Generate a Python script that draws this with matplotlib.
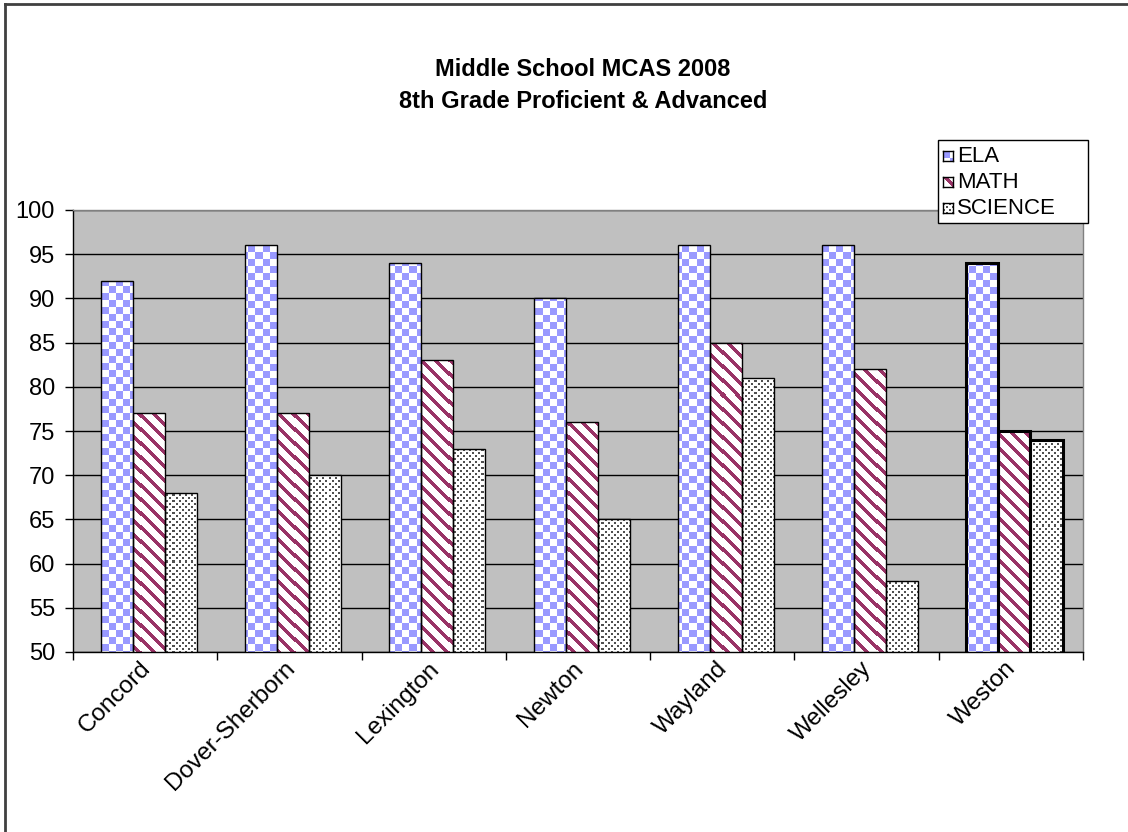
import matplotlib
matplotlib.use("Agg")
import matplotlib.pyplot as plt
import numpy as np
from matplotlib.patches import Rectangle
from matplotlib.lines import Line2D
from matplotlib.transforms import ScaledTranslation

plt.rcParams["font.family"] = ["Liberation Sans", "DejaVu Sans"]

schools = ["Concord", "Dover-Sherborn", "Lexington", "Newton", "Wayland", "Wellesley", "Weston"]
series = ["ELA", "MATH", "SCIENCE"]
ela = [92, 96, 94, 90, 96, 96, 94]
math_ = [77, 77, 83, 76, 85, 82, 75]
science = [68, 70, 73, 65, 81, 58, 74]
yticks = list(range(50, 101, 5))
title1 = "Middle School MCAS 2008"
title2 = "8th Grade Proficient & Advanced"

FIG_W, FIG_H = 1128, 832
BLUE = np.array([0x99, 0x99, 0xFF]) / 255
MAROON = np.array([0x99, 0x33, 0x66]) / 255
DOT = np.array([0x50, 0x50, 0x50]) / 255


def checker(h, w):
    yy, xx = np.mgrid[0:h, 0:w]
    img = np.ones((h, w, 3))
    img[((xx // 7 + yy // 7) % 2) == 0] = BLUE
    return img


def stripes(h, w):
    yy, xx = np.mgrid[0:h, 0:w]
    img = np.ones((h, w, 3))
    img[((xx - yy) % 14) < 5] = MAROON
    return img


def dots(h, w):
    yy, xx = np.mgrid[0:h, 0:w]
    img = np.ones((h, w, 3))
    m = ((xx % 6 < 2) & (yy % 6 < 2)) | (((xx + 3) % 6 < 2) & ((yy + 3) % 6 < 2))
    img[m] = DOT
    return img


textures = [checker, stripes, dots]

fig = plt.figure(figsize=(FIG_W / 100, FIG_H / 100), dpi=100)
left, right, top, bottom = 73, 1083, 210, 652
ax = fig.add_axes([left / FIG_W, 1 - bottom / FIG_H, (right - left) / FIG_W, (bottom - top) / FIG_H])
ax.set_facecolor("#C0C0C0")

x = np.arange(len(schools))
w = 0.222
shift = 0.025  # bars sit a touch right of the category centre
xlim = (-0.5, len(schools) - 0.5)
ylim = (50, 100)
hpx, wpx = bottom - top, right - left

for i, vals in enumerate([ela, math_, science]):
    tex = textures[i](hpx, wpx)
    lws = [2.2 if s == "Weston" else 1.0 for s in schools]
    bars = ax.bar(x + (i - 1) * w + shift, vals, width=w, facecolor="none",
                  edgecolor="black", linewidth=lws, zorder=3)
    for b in bars:
        im = ax.imshow(tex, extent=(xlim[0], xlim[1], ylim[0], ylim[1]),
                       origin="upper", interpolation="nearest", aspect="auto", zorder=2)
        im.set_clip_path(b)

ax.set_xlim(*xlim)
ax.set_ylim(*ylim)
ax.set_axisbelow(True)
ax.yaxis.grid(True, color="black", linewidth=1.0)

ax.set_yticks(yticks)
ax.tick_params(axis="y", length=6, width=1, pad=7, labelsize=17)

ax.set_xticks(x)
ax.set_xticklabels(schools)
ax.set_xticks(np.arange(-0.5, len(schools), 1), minor=True)
ax.tick_params(axis="x", which="major", length=0, pad=4, labelsize=17.5)
ax.tick_params(axis="x", which="minor", length=6, width=1, direction="out")
offset = ScaledTranslation(-6 / 100, 0, fig.dpi_scale_trans)
for lbl in ax.get_xticklabels():
    lbl.set_rotation(45)
    lbl.set_ha("right")
    lbl.set_va("top")
    lbl.set_rotation_mode("anchor")
    lbl.set_transform(lbl.get_transform() + offset)

for s in ["left", "bottom"]:
    ax.spines[s].set_color("black")
    ax.spines[s].set_linewidth(1.0)
for s in ["top", "right"]:
    ax.spines[s].set_color("#808080")
    ax.spines[s].set_linewidth(1.0)

# titles
fig.text(583 / FIG_W, 1 - 70 / FIG_H, title1, ha="center", va="center",
         fontsize=17, fontweight="bold")
fig.text(583 / FIG_W, 1 - 101 / FIG_H, title2, ha="center", va="center",
         fontsize=17, fontweight="bold")

# legend drawn by hand
lg_l, lg_r, lg_t, lg_b = 938, 1088, 140, 223
fig.patches.append(Rectangle((lg_l / FIG_W, 1 - lg_b / FIG_H), (lg_r - lg_l) / FIG_W,
                             (lg_b - lg_t) / FIG_H, transform=fig.transFigure,
                             facecolor="white", edgecolor="black", linewidth=1.0, zorder=5))
rows = [156, 182, 208]
for name, tfun, yc in zip(series, textures, rows):
    sw = fig.add_axes([943 / FIG_W, 1 - (yc + 5) / FIG_H, 10 / FIG_W, 10 / FIG_H], zorder=6)
    sw.imshow(tfun(10, 10), interpolation="nearest", aspect="auto")
    sw.set_xticks([])
    sw.set_yticks([])
    for sp in sw.spines.values():
        sp.set_linewidth(1.0)
        sp.set_color("black")
    fig.text(957 / FIG_W, 1 - yc / FIG_H, name, ha="left", va="center",
             fontsize=16, zorder=7)

# outer border (top and left edges visible)
fig.lines.append(Line2D([5 / FIG_W, 1], [1 - 4 / FIG_H, 1 - 4 / FIG_H],
                        transform=fig.transFigure, color="#404040", linewidth=2))
fig.lines.append(Line2D([5 / FIG_W, 5 / FIG_W], [0, 1 - 4 / FIG_H],
                        transform=fig.transFigure, color="#404040", linewidth=2))

fig.savefig("out.png", dpi=100)
